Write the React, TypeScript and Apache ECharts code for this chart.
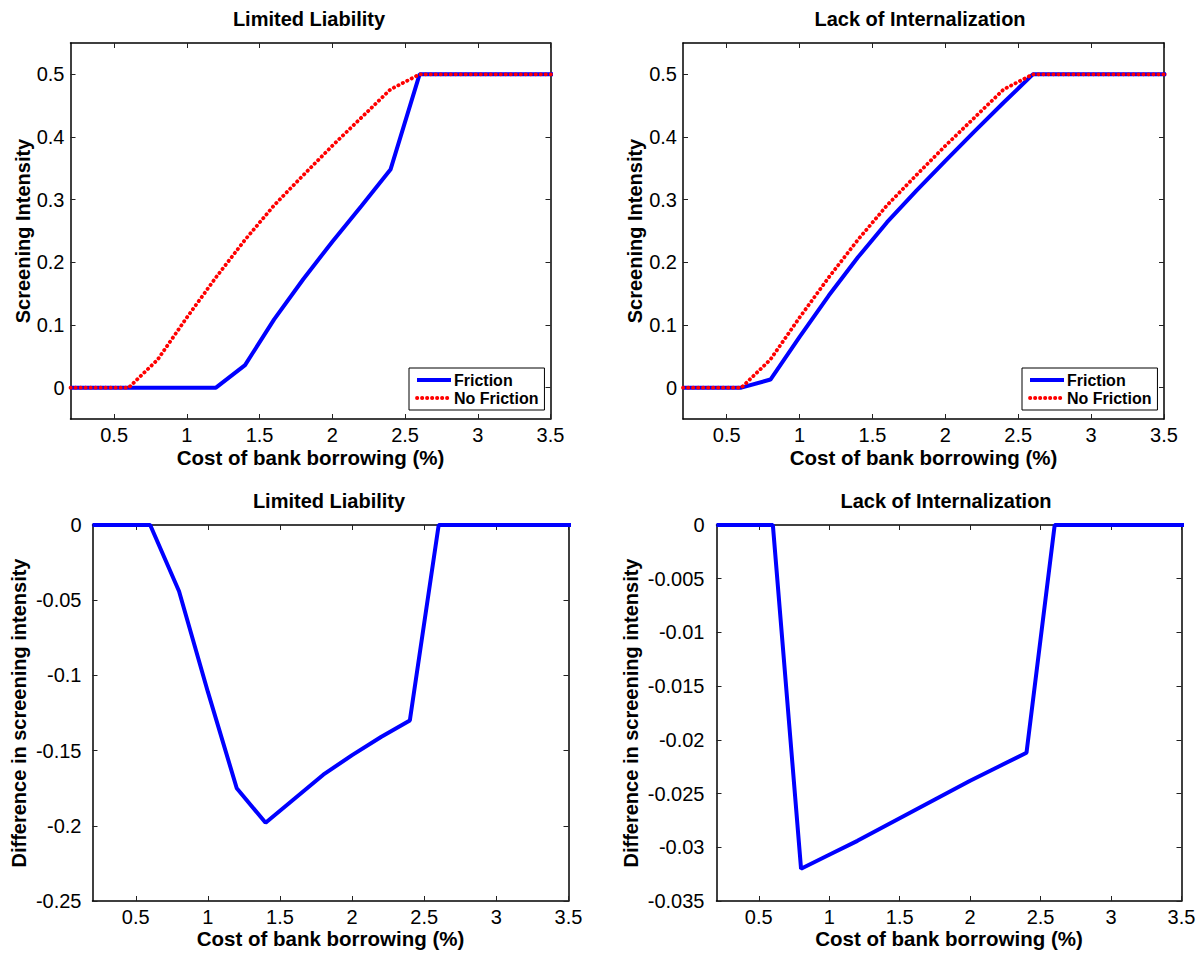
import React, { useEffect, useRef } from "react";
import * as echarts from "echarts";

const FONT = '"Liberation Sans", Arial, Helvetica, sans-serif';

// x grid: cost of bank borrowing (%)
const xValues = [0.2, 0.4, 0.6, 0.8, 1.0, 1.2, 1.4, 1.6, 1.8, 2.0, 2.2, 2.4, 2.6, 2.8, 3.0, 3.2, 3.4, 3.6];

// Screening intensity – no friction benchmark
const noFriction = [0, 0, 0, 0.045, 0.112, 0.176, 0.236, 0.291, 0.339, 0.386, 0.431, 0.476, 0.5, 0.5, 0.5, 0.5, 0.5, 0.5];
// Limited liability – friction
const frictionLL = [0, 0, 0, 0, 0, 0, 0.036, 0.109, 0.173, 0.233, 0.29, 0.348, 0.5, 0.5, 0.5, 0.5, 0.5, 0.5];
// Lack of internalization – friction
const frictionLI = [0, 0, 0, 0.013, 0.081, 0.147, 0.208, 0.264, 0.314, 0.362, 0.409, 0.455, 0.5, 0.5, 0.5, 0.5, 0.5, 0.5];
// Differences in screening intensity
const diffLL = [0, 0, 0, -0.044, -0.111, -0.175, -0.198, -0.182, -0.166, -0.153, -0.141, -0.13, 0, 0, 0, 0, 0, 0];
const diffLI = [0, 0, 0, -0.032, -0.0307, -0.0294, -0.028, -0.0266, -0.0252, -0.0238, -0.0225, -0.0212, 0, 0, 0, 0, 0, 0];

const xTicks = [0.5, 1, 1.5, 2, 2.5, 3, 3.5];
const yTicksTop = [0, 0.1, 0.2, 0.3, 0.4, 0.5];
const yTicksLL = [-0.25, -0.2, -0.15, -0.1, -0.05, 0];
const yTicksLI = [-0.035, -0.03, -0.025, -0.02, -0.015, -0.01, -0.005, 0];

const titles = ["Limited Liability", "Lack of Internalization", "Limited Liability", "Lack of Internalization"];
const xName = "Cost of bank borrowing (%)";
const yNames = ["Screening Intensity", "Screening Intensity", "Difference in screening intensity", "Difference in screening intensity"];

const grids = [
  { left: 70.5, top: 43, width: 480, height: 376 },
  { left: 683, top: 43, width: 481, height: 376 },
  { left: 92.5, top: 525, width: 476, height: 376 },
  { left: 716.5, top: 525, width: 465, height: 376 },
];
const yRanges = [
  { min: -0.05, max: 0.55, ticks: yTicksTop },
  { min: -0.05, max: 0.55, ticks: yTicksTop },
  { min: -0.25, max: 0, ticks: yTicksLL },
  { min: -0.035, max: 0, ticks: yTicksLI },
];
const yNameGaps = [38, 38, 64, 76];
const yLabelMargins = [6, 6, 11, 12];
const xNameGaps = [28, 28, 27, 27];
const titleCenters = [309, 920, 329, 946];
const titleTops = [9, 9, 491, 491];

const BLUE = "#0000ff";
const RED = "#ff0000";
const DOTS = [0.3, 4.7];

export default function App() {
  const ref = useRef<HTMLDivElement>(null);
  useEffect(() => {
    if (!ref.current) return;
    const chart = echarts.init(ref.current, undefined, { renderer: "svg" });

    const axisLine = { show: true, onZero: false, lineStyle: { color: "#000", width: 1.5 } };
    const xAxis: any[] = [];
    const yAxis: any[] = [];
    grids.forEach((_, i) => {
      xAxis.push({
        type: "value", gridIndex: i, min: 0.2, max: 3.5, position: "bottom",
        name: xName, nameLocation: "middle", nameGap: xNameGaps[i],
        nameTextStyle: { fontFamily: FONT, fontSize: 20.5, fontWeight: "bold", color: "#000" },
        axisLine,
        axisTick: { show: true, inside: true, length: 5, customValues: xTicks, lineStyle: { color: "#222" } },
        axisLabel: { show: true, customValues: xTicks, margin: 6, fontFamily: FONT, fontSize: 20, color: "#000" },
        splitLine: { show: false },
      });
      xAxis.push({
        type: "value", gridIndex: i, min: 0.2, max: 3.5, position: "top",
        axisLine,
        axisTick: { show: true, inside: true, length: 5, customValues: xTicks, lineStyle: { color: "#222" } },
        axisLabel: { show: false },
        splitLine: { show: false },
      });
      const r = yRanges[i];
      yAxis.push({
        type: "value", gridIndex: i, min: r.min, max: r.max, position: "left",
        name: yNames[i], nameLocation: "middle", nameRotate: 90, nameGap: yNameGaps[i],
        nameTextStyle: { fontFamily: FONT, fontSize: 20, fontWeight: "bold", color: "#000" },
        axisLine,
        axisTick: { show: true, inside: true, length: 5, customValues: r.ticks, lineStyle: { color: "#222" } },
        axisLabel: { show: true, customValues: r.ticks, margin: yLabelMargins[i], fontFamily: FONT, fontSize: 20, color: "#000" },
        splitLine: { show: false },
      });
      yAxis.push({
        type: "value", gridIndex: i, min: r.min, max: r.max, position: "right",
        axisLine,
        axisTick: { show: true, inside: true, length: 5, customValues: r.ticks, lineStyle: { color: "#222" } },
        axisLabel: { show: false },
        splitLine: { show: false },
      });
    });

    const pts = (arr: number[]) => xValues.map((x, j) => [x, arr[j]]);
    const solid = (name: string, i: number, arr: number[]) => ({
      type: "line", name, xAxisIndex: 2 * i, yAxisIndex: 2 * i, data: pts(arr),
      symbol: "none", clip: true, z: 3,
      lineStyle: { color: BLUE, width: 4 }, itemStyle: { color: BLUE },
    });
    const dotted = (name: string, i: number, arr: number[]) => ({
      type: "line", name, xAxisIndex: 2 * i, yAxisIndex: 2 * i, data: pts(arr),
      symbol: "none", clip: true, z: 4,
      lineStyle: { color: RED, width: 3.8, type: DOTS, cap: "round" }, itemStyle: { color: RED },
    });

    const series = [
      solid("Friction", 0, frictionLL),
      dotted("No Friction", 0, noFriction),
      solid("Friction", 1, frictionLI),
      dotted("No Friction", 1, noFriction),
      solid("Difference LL", 2, diffLL),
      solid("Difference LI", 3, diffLI),
    ];

    const legendBase = {
      orient: "vertical", top: 368,
      data: [
        { name: "Friction", lineStyle: { color: BLUE, width: 4, type: "solid" } },
        { name: "No Friction", lineStyle: { color: RED, width: 3.8, type: DOTS, cap: "round" } },
      ],
      itemWidth: 34, itemHeight: 18, itemGap: 2, padding: [4, 6, 4, 6],
      borderColor: "#000", borderWidth: 1, backgroundColor: "#fff", selectedMode: false,
      itemStyle: { color: "transparent", borderColor: "transparent", borderWidth: 0, opacity: 0 },
      textStyle: { fontFamily: FONT, fontSize: 16, fontWeight: "bold", color: "#000", padding: [0, 0, 0, -2] },
    };

    chart.setOption({
      animation: false,
      backgroundColor: "#fff",
      title: titles.map((t, i) => ({
        text: t, left: titleCenters[i], top: titleTops[i], textAlign: "center", padding: 0,
        textStyle: { fontFamily: FONT, fontSize: 20, fontWeight: "bold", color: "#000" },
      })),
      grid: grids.map((g) => ({ ...g, containLabel: false })),
      xAxis,
      yAxis,
      legend: [
        { ...legendBase, left: 409 },
        { ...legendBase, left: 1022 },
      ],
      series,
    });
    return () => chart.dispose();
  }, []);
  return <div ref={ref} style={{ position: "absolute", left: 0, top: 0, width: 1199, height: 953 }} />;
}
